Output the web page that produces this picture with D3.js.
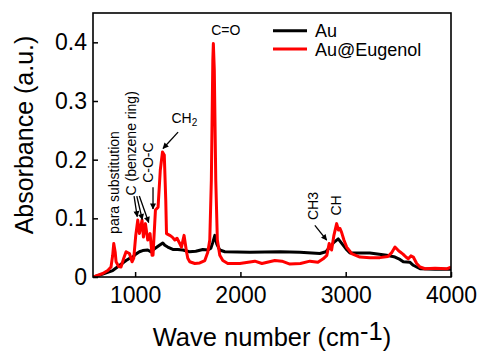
<!DOCTYPE html>
<html>
<head>
<meta charset="utf-8">
<script src="https://cdn.jsdelivr.net/npm/d3@7"></script>
<style>
  body { margin: 0; background: #fff; }
  text { font-family: "Liberation Sans", Arial, sans-serif; fill: #000; }
</style>
</head>
<body>
<script>
// FTIR spectra: Au vs Au@Eugenol

const w = 484;
const h = 356;
const margin = { top: 13, right: 33, bottom: 79, left: 93 };

// wavenumber (cm-1) / absorbance
const auWave = [600, 692, 787, 854, 914, 949, 977, 1006, 1041, 1072, 1120, 1148, 1184, 1231, 1263, 1282, 1310, 1358, 1405, 1453, 1516, 1576, 1643, 1693, 1719, 1738, 1757, 1776, 1804, 1852, 2090, 2375, 2565, 2755, 2812, 2850, 2888, 2929, 2955, 2977, 3012, 3040, 3230, 3389, 3468, 3515, 3547, 3611, 3642, 3706, 3848, 4000];
const auAbs  = [0.000, 0.005, 0.011, 0.020, 0.028, 0.032, 0.034, 0.039, 0.043, 0.045, 0.046, 0.043, 0.048, 0.054, 0.058, 0.054, 0.051, 0.047, 0.047, 0.046, 0.043, 0.044, 0.047, 0.046, 0.049, 0.059, 0.071, 0.056, 0.046, 0.043, 0.042, 0.043, 0.042, 0.040, 0.043, 0.051, 0.059, 0.065, 0.059, 0.054, 0.046, 0.041, 0.041, 0.037, 0.034, 0.030, 0.026, 0.025, 0.020, 0.014, 0.013, 0.013];

const eugWave = [600, 692, 740, 771, 787, 797, 811, 819, 844, 866, 892, 914, 946, 971, 987, 1006, 1025, 1041, 1066, 1079, 1098, 1120, 1142, 1161, 1170, 1193, 1218, 1239, 1260, 1277, 1291, 1298, 1329, 1353, 1377, 1398, 1424, 1440, 1465, 1488, 1500, 1519, 1567, 1614, 1662, 1690, 1709, 1724, 1738, 1743, 1752, 1766, 1781, 1804, 1833, 1880, 1994, 2137, 2204, 2327, 2394, 2470, 2570, 2660, 2736, 2786, 2821, 2843, 2866, 2888, 2914, 2931, 2945, 2961, 2983, 3009, 3056, 3135, 3230, 3325, 3401, 3439, 3468, 3496, 3515, 3544, 3572, 3594, 3619, 3642, 3674, 3706, 3753, 3848, 3959, 4000];
const eugAbs  = [0.000, 0.006, 0.011, 0.017, 0.037, 0.057, 0.042, 0.026, 0.018, 0.017, 0.032, 0.043, 0.040, 0.026, 0.032, 0.071, 0.097, 0.074, 0.097, 0.068, 0.091, 0.063, 0.074, 0.037, 0.037, 0.114, 0.119, 0.182, 0.213, 0.208, 0.131, 0.074, 0.071, 0.068, 0.063, 0.066, 0.057, 0.051, 0.071, 0.043, 0.032, 0.026, 0.023, 0.024, 0.028, 0.042, 0.063, 0.165, 0.370, 0.398, 0.353, 0.165, 0.063, 0.037, 0.028, 0.023, 0.023, 0.027, 0.023, 0.028, 0.027, 0.022, 0.023, 0.027, 0.025, 0.031, 0.037, 0.057, 0.046, 0.071, 0.091, 0.080, 0.083, 0.076, 0.063, 0.051, 0.040, 0.034, 0.033, 0.033, 0.035, 0.042, 0.051, 0.046, 0.043, 0.039, 0.034, 0.031, 0.036, 0.034, 0.023, 0.017, 0.014, 0.015, 0.014, 0.017];

const seriesNames = ["Au", "Au@Eugenol"];
const seriesColors = ["#000000", "#ff0000"];

const xTicks = [1000, 2000, 3000, 4000];
const yTicks = [0, 0.1, 0.2, 0.3, 0.4];

const svg = d3.select("body")
  .append("svg")
  .attr("width", w)
  .attr("height", h);

const x_scale = d3.scaleLinear()
  .domain([600, 4000])
  .range([margin.left, w - margin.right]);

const y_scale = d3.scaleLinear()
  .domain([0, 0.45])
  .range([h - margin.bottom, margin.top]);

const defs = svg.append("defs");
defs.append("clipPath").attr("id", "plot")
  .append("rect")
  .attr("x", margin.left).attr("y", margin.top)
  .attr("width", w - margin.left - margin.right)
  .attr("height", h - margin.top - margin.bottom);

defs.append("marker")
  .attr("id", "arrow")
  .attr("viewBox", "0 0 10 10")
  .attr("refX", 9).attr("refY", 5)
  .attr("markerWidth", 7).attr("markerHeight", 6)
  .attr("markerUnits", "userSpaceOnUse")
  .attr("orient", "auto")
  .append("path")
  .attr("d", "M0,0L10,5L0,10Z")
  .attr("fill", "#000");

// spectra
const line = d3.line()
  .x(d => x_scale(d[0]))
  .y(d => y_scale(d[1]));

const spectra = [
  d3.zip(auWave, auAbs),
  d3.zip(eugWave, eugAbs)
];

svg.append("g")
  .attr("clip-path", "url(#plot)")
  .selectAll("path")
  .data(spectra)
  .enter()
  .append("path")
  .attr("d", line)
  .attr("fill", "none")
  .attr("stroke", (d, i) => seriesColors[i])
  .attr("stroke-width", 3)
  .attr("stroke-linejoin", "round");

// axes, ticks pointing inwards
const x_axis = d3.axisBottom(x_scale).tickValues(xTicks).tickSize(-5).tickPadding(10).tickFormat(d3.format("d"));
const y_axis = d3.axisLeft(y_scale).tickValues(yTicks).tickSize(-5).tickPadding(6).tickFormat(d => d === 0 ? "0" : d3.format(".1f")(d));

const gx = svg.append("g")
  .attr("transform", `translate(0,${h - margin.bottom})`)
  .call(x_axis);
const gy = svg.append("g")
  .attr("transform", `translate(${margin.left},0)`)
  .call(y_axis);

[gx, gy].forEach(g => {
  g.select(".domain").remove();
  g.selectAll(".tick line").attr("stroke", "#000").attr("stroke-width", 1.5);
  g.selectAll(".tick text").attr("font-size", 23).attr("font-family", "Liberation Sans, Arial, sans-serif").attr("fill", "#000");
});

svg.append("rect")
  .attr("x", margin.left).attr("y", margin.top)
  .attr("width", w - margin.left - margin.right)
  .attr("height", h - margin.top - margin.bottom)
  .attr("fill", "none")
  .attr("stroke", "#000")
  .attr("stroke-width", 1.6);

// axis titles
const xt = svg.append("text")
  .attr("x", 272).attr("y", 346)
  .attr("text-anchor", "middle")
  .attr("font-size", 25.5);
xt.append("tspan").text("Wave number (cm");
xt.append("tspan").attr("dy", -6).text("-1");
xt.append("tspan").attr("dy", 6).text(")");

svg.append("text")
  .attr("transform", "translate(33,135) rotate(-90)")
  .attr("text-anchor", "middle")
  .attr("font-size", 25)
  .text("Absorbance (a.u.)");

// legend
const legend = svg.append("g").selectAll("g")
  .data(seriesNames)
  .enter()
  .append("g")
  .attr("transform", (d, i) => `translate(273,${30.7 + i * 18.3})`);
legend.append("line")
  .attr("x1", 0).attr("x2", 34)
  .attr("stroke", (d, i) => seriesColors[i])
  .attr("stroke-width", 3);
legend.append("text")
  .attr("x", 42).attr("y", 6.5)
  .attr("font-size", 18)
  .text(d => d);

// peak annotations (positions in data units)
const arrows = [
  [990, 0.138, 1020, 0.103],
  [1016, 0.138, 1068, 0.098],
  [1040, 0.138, 1129, 0.093],
  [1170, 0.153, 1170, 0.116],
  [1408, 0.247, 1265, 0.219],
  [2707, 0.088, 2819, 0.063]
];
svg.append("g").selectAll("line")
  .data(arrows)
  .enter()
  .append("line")
  .attr("x1", d => x_scale(d[0])).attr("y1", d => y_scale(d[1]))
  .attr("x2", d => x_scale(d[2])).attr("y2", d => y_scale(d[3]))
  .attr("stroke", "#000")
  .attr("stroke-width", 1.3)
  .attr("marker-end", "url(#arrow)");

const vLabels = [
  { text: "para substitution", wn: 845, a: 0.161, anchor: "middle" },
  { text: "C (benzene ring)", wn: 1004, a: 0.139, anchor: "start" },
  { text: "C-O-C", wn: 1168, a: 0.195, anchor: "middle" },
  { text: "CH3", wn: 2740, a: 0.121, anchor: "middle" },
  { text: "CH", wn: 2955, a: 0.122, anchor: "middle" }
];
svg.append("g").selectAll("text")
  .data(vLabels)
  .enter()
  .append("text")
  .attr("transform", d => `translate(${x_scale(d.wn)},${y_scale(d.a)}) rotate(-90)`)
  .attr("text-anchor", d => d.anchor)
  .attr("font-size", 14)
  .text(d => d.text);

svg.append("text")
  .attr("x", x_scale(1861)).attr("y", y_scale(0.412))
  .attr("text-anchor", "middle")
  .attr("font-size", 14)
  .text("C=O");

const ch2 = svg.append("text")
  .attr("x", x_scale(1345)).attr("y", y_scale(0.262))
  .attr("font-size", 14);
ch2.append("tspan").text("CH");
ch2.append("tspan").attr("font-size", 10).attr("dy", 3).text("2");
</script>
</body>
</html>
